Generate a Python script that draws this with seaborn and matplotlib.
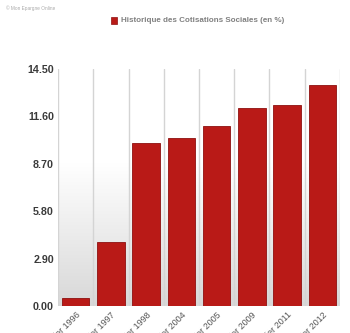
import numpy as np
import pandas as pd
import matplotlib
matplotlib.use("Agg")
import matplotlib.pyplot as plt
import seaborn as sns
from matplotlib.colors import LinearSegmentedColormap

categories = ["Février 1996", "Janvier 1997", "Janvier 1998", "Janvier 2004",
              "Janvier 2005", "Janvier 2009", "Janvier 2011", "Janvier 2012"]
values = [0.5, 3.9, 10.0, 10.3, 11.0, 12.1, 12.3, 13.5]
yticks = [0.0, 2.9, 5.8, 8.7, 11.6, 14.5]
series_name = "Historique des Cotisations Sociales (en %)"

df = pd.DataFrame({"cat": categories, "val": values})

sns.set_style("white")
plt.rcParams['font.family'] = ['Liberation Sans', 'DejaVu Sans']

fig = plt.figure(figsize=(3.5, 3.33), dpi=100)
ax = fig.add_axes([0.166, 0.081, 0.805, 0.712])

# gradient background
grad = np.linspace(0, 1, 256).reshape(-1, 1)
cmap = LinearSegmentedColormap.from_list("g", [(0, "#d8d8d8"), (0.6, "#ffffff"), (1, "#ffffff")])
ax.imshow(grad, aspect="auto", cmap=cmap, origin="lower",
          extent=[-0.5, len(categories) - 0.5, 0, 14.5], zorder=0)

sns.barplot(data=df, x="cat", y="val", color="#b91a17", width=0.78,
            edgecolor="#8e1010", linewidth=0.6, saturation=1, ax=ax, zorder=3)

for i in range(len(categories) + 1):
    ax.axvline(i - 0.5, color="#d4d4d4", lw=1.0, zorder=1)

ax.set_xlim(-0.5, len(categories) - 0.5)
ax.set_ylim(0, 14.5)
ax.set_yticks(yticks)
ax.set_yticklabels([f"{v:.2f}" for v in yticks], fontsize=7.7, fontweight="bold", color="#3a3a3a")
ax.tick_params(axis="y", length=0, pad=3.0)
ax.tick_params(axis="x", length=0, pad=3)
ax.set_xticks(range(len(categories)))
ax.set_xticklabels(categories, rotation=45, ha="right", rotation_mode="anchor",
                   fontsize=6.5, color="#555555")
ax.set_xlabel("")
ax.set_ylabel("")
for s in ax.spines.values():
    s.set_visible(False)

# legend-like header
fig.patches.append(matplotlib.patches.Rectangle((0.317, 0.928), 0.017, 0.020,
                   transform=fig.transFigure, facecolor="#b91a17", edgecolor="#8e1010", lw=0.5))
fig.text(0.346, 0.938, series_name, fontsize=5.75, fontweight="bold", color="#808080", va="center")
fig.text(0.017, 0.985, "© Mon Epargne Online", fontsize=3.4, color="#aaaaaa", va="top")

fig.savefig("out.png", dpi=100)
